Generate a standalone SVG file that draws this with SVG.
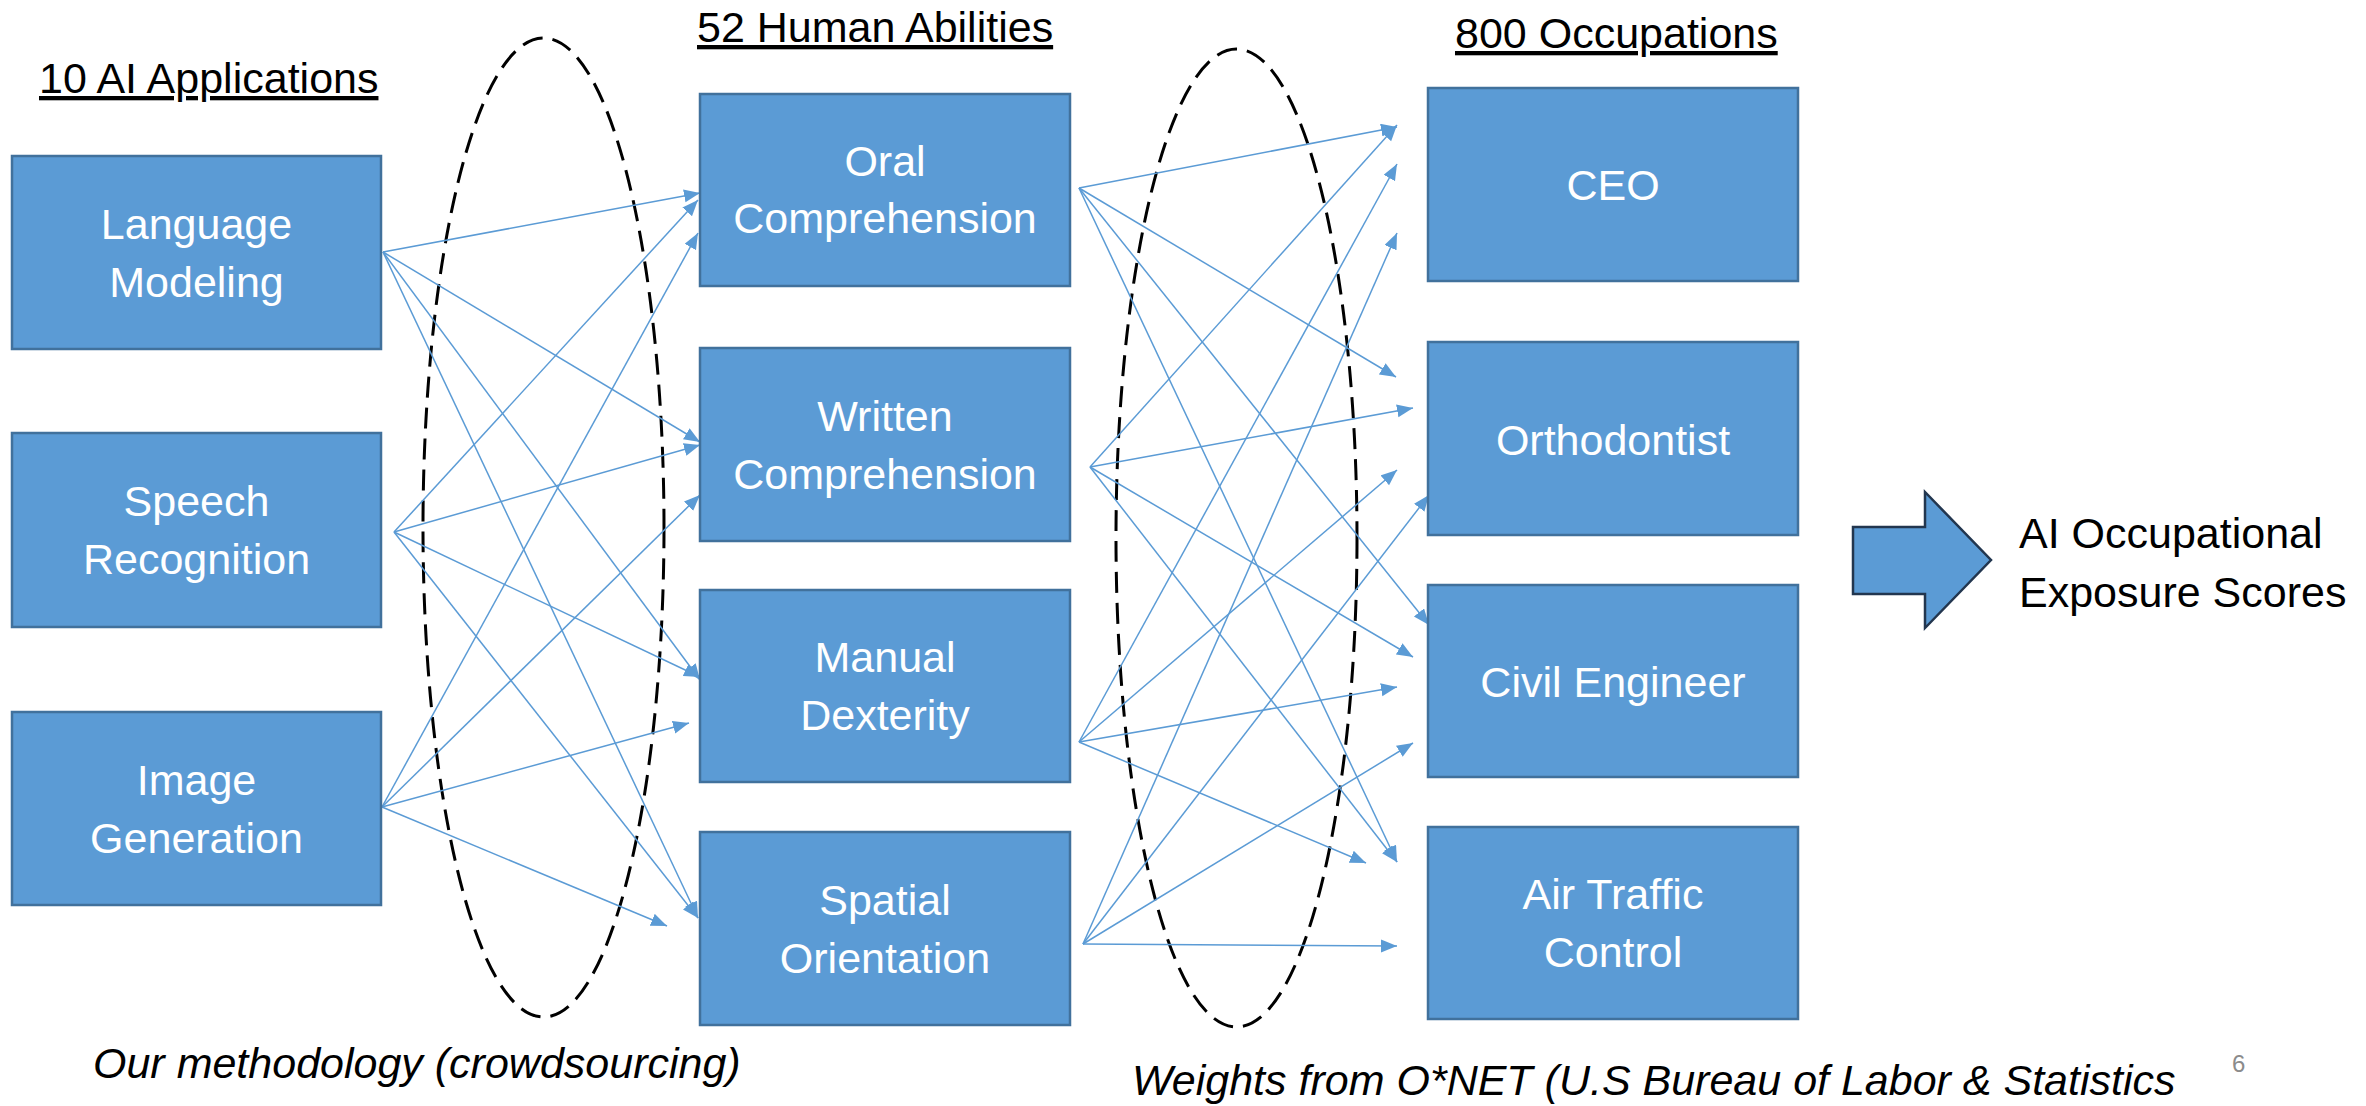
<svg xmlns="http://www.w3.org/2000/svg" width="2366" height="1106" viewBox="0 0 2366 1106">
<style>
.box{fill:#5B9BD5;stroke:#41719C;stroke-width:2.5}
.lbl{font-family:"Liberation Sans",Arial,sans-serif;font-size:43px;fill:#FFFFFF;text-anchor:middle}
.ttl{font-family:"Liberation Sans",Arial,sans-serif;font-size:43px;fill:#000000;text-decoration:underline}
.cap{font-family:"Liberation Sans",Arial,sans-serif;font-size:43px;fill:#000000;font-style:italic}
.out{font-family:"Liberation Sans",Arial,sans-serif;font-size:43px;fill:#000000}
.con line{stroke:#5B9BD5;stroke-width:1.5;fill:none;marker-end:url(#ah)}
.ell{fill:none;stroke:#000000;stroke-width:3;stroke-dasharray:21 10}
</style>
<defs>
<marker id="ah" markerUnits="userSpaceOnUse" markerWidth="18" markerHeight="14" refX="16" refY="6.5" orient="auto">
<path d="M0,0 L16,6.5 L0,13 z" fill="#5B9BD5"/>
</marker>
</defs>
<rect width="2366" height="1106" fill="#FFFFFF"/>

<g id="titles">
<text class="ttl" x="39" y="93">10 AI Applications</text>
<text class="ttl" x="697" y="42">52 Human Abilities</text>
<text class="ttl" x="1455" y="48">800 Occupations</text>
</g>

<g id="ellipses">
<ellipse class="ell" cx="543.5" cy="527.5" rx="120.5" ry="489.5"/>
<ellipse class="ell" cx="1236.5" cy="538" rx="120.5" ry="489"/>
</g>

<g id="connectors" class="con">
<line x1="383" y1="252" x2="700" y2="193"/>
<line x1="383" y1="252" x2="700" y2="442"/>
<line x1="383" y1="252" x2="700" y2="680"/>
<line x1="383" y1="252" x2="698" y2="918"/>
<line x1="394" y1="532" x2="698" y2="200"/>
<line x1="394" y1="532" x2="700" y2="445"/>
<line x1="394" y1="532" x2="700" y2="677"/>
<line x1="394" y1="532" x2="698" y2="918"/>
<line x1="382" y1="807" x2="698" y2="233"/>
<line x1="382" y1="807" x2="700" y2="495"/>
<line x1="382" y1="807" x2="689" y2="723"/>
<line x1="382" y1="807" x2="667" y2="926"/>
<line x1="1079" y1="188" x2="1397" y2="127"/>
<line x1="1079" y1="188" x2="1396" y2="377"/>
<line x1="1079" y1="188" x2="1429" y2="625"/>
<line x1="1079" y1="188" x2="1397" y2="862"/>
<line x1="1090" y1="467" x2="1397" y2="125"/>
<line x1="1090" y1="467" x2="1413" y2="408"/>
<line x1="1090" y1="467" x2="1413" y2="657"/>
<line x1="1090" y1="467" x2="1397" y2="862"/>
<line x1="1079" y1="742" x2="1397" y2="164"/>
<line x1="1079" y1="742" x2="1397" y2="470"/>
<line x1="1079" y1="742" x2="1397" y2="687"/>
<line x1="1079" y1="742" x2="1366" y2="863"/>
<line x1="1083" y1="944" x2="1397" y2="233"/>
<line x1="1083" y1="944" x2="1429" y2="495"/>
<line x1="1083" y1="944" x2="1413" y2="743"/>
<line x1="1083" y1="944" x2="1397" y2="946"/>
</g>

<g id="language-modeling">
<rect class="box" x="12" y="156" width="369" height="193"/>
<text class="lbl" x="196.5" y="239">Language</text>
<text class="lbl" x="196.5" y="297">Modeling</text>
</g>
<g id="speech-recognition">
<rect class="box" x="12" y="433" width="369" height="194"/>
<text class="lbl" x="196.5" y="516">Speech</text>
<text class="lbl" x="196.5" y="574">Recognition</text>
</g>
<g id="image-generation">
<rect class="box" x="12" y="712" width="369" height="193"/>
<text class="lbl" x="196.5" y="795">Image</text>
<text class="lbl" x="196.5" y="853">Generation</text>
</g>

<g id="oral-comprehension">
<rect class="box" x="700" y="94" width="370" height="192"/>
<text class="lbl" x="885" y="176">Oral</text>
<text class="lbl" x="885" y="233">Comprehension</text>
</g>
<g id="written-comprehension">
<rect class="box" x="700" y="348" width="370" height="193"/>
<text class="lbl" x="885" y="431">Written</text>
<text class="lbl" x="885" y="489">Comprehension</text>
</g>
<g id="manual-dexterity">
<rect class="box" x="700" y="590" width="370" height="192"/>
<text class="lbl" x="885" y="672">Manual</text>
<text class="lbl" x="885" y="730">Dexterity</text>
</g>
<g id="spatial-orientation">
<rect class="box" x="700" y="832" width="370" height="193"/>
<text class="lbl" x="885" y="915">Spatial</text>
<text class="lbl" x="885" y="973">Orientation</text>
</g>

<g id="ceo">
<rect class="box" x="1428" y="88" width="370" height="193"/>
<text class="lbl" x="1613" y="200">CEO</text>
</g>
<g id="orthodontist">
<rect class="box" x="1428" y="342" width="370" height="193"/>
<text class="lbl" x="1613" y="455">Orthodontist</text>
</g>
<g id="civil-engineer">
<rect class="box" x="1428" y="585" width="370" height="192"/>
<text class="lbl" x="1613" y="697">Civil Engineer</text>
</g>
<g id="air-traffic-control">
<rect class="box" x="1428" y="827" width="370" height="192"/>
<text class="lbl" x="1613" y="909">Air Traffic</text>
<text class="lbl" x="1613" y="967">Control</text>
</g>

<g id="exposure-arrow">
<polygon points="1853,527 1925,527 1925,492 1991,560 1925,628 1925,594 1853,594" fill="#5B9BD5" stroke="#22364F" stroke-width="2.5" stroke-linejoin="miter"/>
</g>
<g id="exposure-scores">
<text class="out" x="2019" y="548">AI Occupational</text>
<text class="out" x="2019" y="607">Exposure Scores</text>
</g>

<g id="captions">
<text class="cap" x="93" y="1078">Our methodology (crowdsourcing)</text>
<text class="cap" x="1132" y="1095">Weights from O*NET (U.S Bureau of Labor &amp; Statistics</text>
<text x="2232" y="1072" font-family="Liberation Sans, Arial, sans-serif" font-size="24" fill="#8B8B8B">6</text>
</g>
</svg>
